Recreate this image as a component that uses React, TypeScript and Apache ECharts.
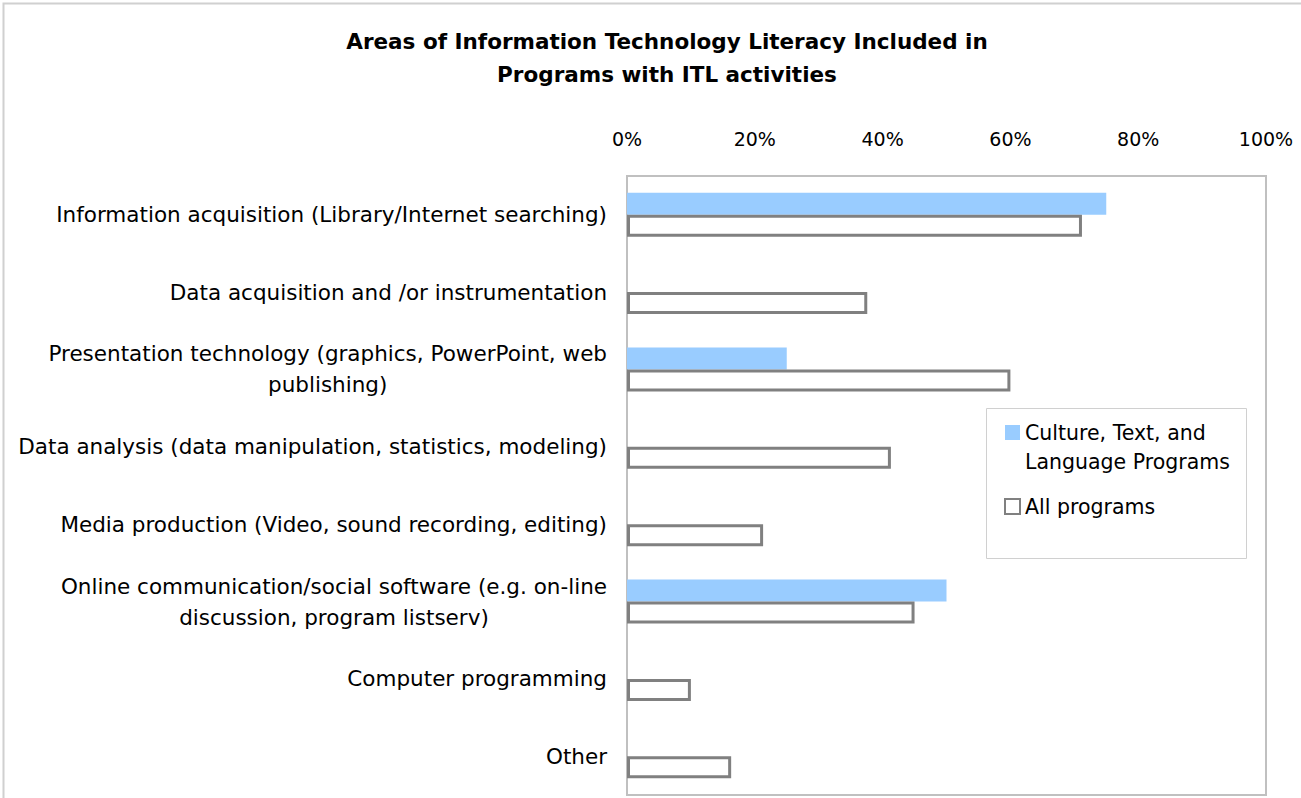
import React, { useEffect, useRef } from "react";
import * as echarts from "echarts";

const categories = [
  "Information acquisition (Library/Internet searching)",
  "Data acquisition and /or instrumentation",
  "Presentation technology (graphics, PowerPoint, web\npublishing)",
  "Data analysis (data manipulation, statistics, modeling)",
  "Media production (Video, sound recording, editing)",
  "Online communication/social software (e.g. on-line\ndiscussion, program listserv)",
  "Computer programming",
  "Other",
];
const cultureValues = [75, 0, 25, 0, 0, 50, 0, 0];
const allValues = [71.2, 37.6, 60, 41.3, 21.3, 45, 10, 16.3];
const seriesNames = ["Culture, Text, and\nLanguage Programs", "All programs"];
const titleText = "Areas of Information Technology Literacy Included in\nPrograms with ITL activities";

const FONT = "DejaVu Sans";

export default function App() {
  const ref = useRef<HTMLDivElement>(null);
  useEffect(() => {
    const chart = echarts.init(ref.current!, null, { renderer: "svg" });
    chart.setOption({
      animation: false,
      backgroundColor: "#fff",
      textStyle: { fontFamily: FONT },
      title: {
        text: titleText,
        left: 662,
        textAlign: "center",
        top: 20,
        textStyle: { fontFamily: FONT, fontSize: 21.5, fontWeight: "bold", color: "#000", lineHeight: 33 },
      },
      graphic: [
        {
          type: "rect",
          left: 1,
          top: 1,
          shape: { x: 0, y: 0, width: 1320, height: 820 },
          style: { fill: "none", stroke: "#d0d0d0", lineWidth: 2 },
          silent: true,
        },
        {
          type: "rect",
          shape: { x: 986.5, y: 408.5, width: 260, height: 150 },
          style: { fill: "none", stroke: "#d0d0d0", lineWidth: 1 },
          silent: true,
          z: 10,
        },
      ],
      legend: {
        orient: "vertical",
        left: 1004,
        top: 389,
        padding: 0,
        itemWidth: 15,
        itemHeight: 15,
        itemGap: 16,
        icon: "rect",
        formatter: (name: string) => (name === seriesNames[0] ? "\n" + name : name),
        textStyle: { fontFamily: FONT, fontSize: 20.5, color: "#000", lineHeight: 29 },
        data: seriesNames,
      },
      grid: {
        left: 627,
        top: 176,
        right: 35,
        bottom: 3,
        show: true,
        borderColor: "#c0c0c0",
        borderWidth: 2,
        containLabel: false,
      },
      xAxis: {
        type: "value",
        position: "top",
        min: 0,
        max: 100,
        interval: 20,
        axisLine: { show: false },
        axisTick: { show: false },
        splitLine: { show: false },
        axisLabel: {
          formatter: "{value}%",
          fontFamily: FONT,
          fontSize: 19,
          color: "#000",
          margin: 28,
        },
      },
      yAxis: {
        type: "category",
        inverse: true,
        data: categories,
        axisLine: { show: false },
        axisTick: { show: false },
        axisLabel: {
          fontFamily: FONT,
          fontSize: 21.5,
          color: "#000",
          margin: 20,
          lineHeight: 31,
          align: "right",
          formatter: (v: string) =>
            v
              .split("\n")
              .map((l) => "{c|" + l + "}")
              .join("\n"),
          rich: {
            c: { align: "center", fontFamily: FONT, fontSize: 21.5, color: "#000", lineHeight: 31 },
          },
        },
      },
      series: [
        {
          name: seriesNames[0],
          type: "bar",
          data: cultureValues,
          barWidth: 22,
          barGap: "0%",
          itemStyle: { color: "#99CCFF" },
        },
        {
          name: seriesNames[1],
          type: "bar",
          data: allValues,
          barWidth: 22,
          barGap: "0%",
          itemStyle: { color: "#fff", borderColor: "#808080", borderWidth: 3 },
        },
      ],
    });
    return () => chart.dispose();
  }, []);
  return (
    <div
      ref={ref}
      style={{ position: "absolute", left: 0, top: 0, width: 1301, height: 798 }}
    />
  );
}
